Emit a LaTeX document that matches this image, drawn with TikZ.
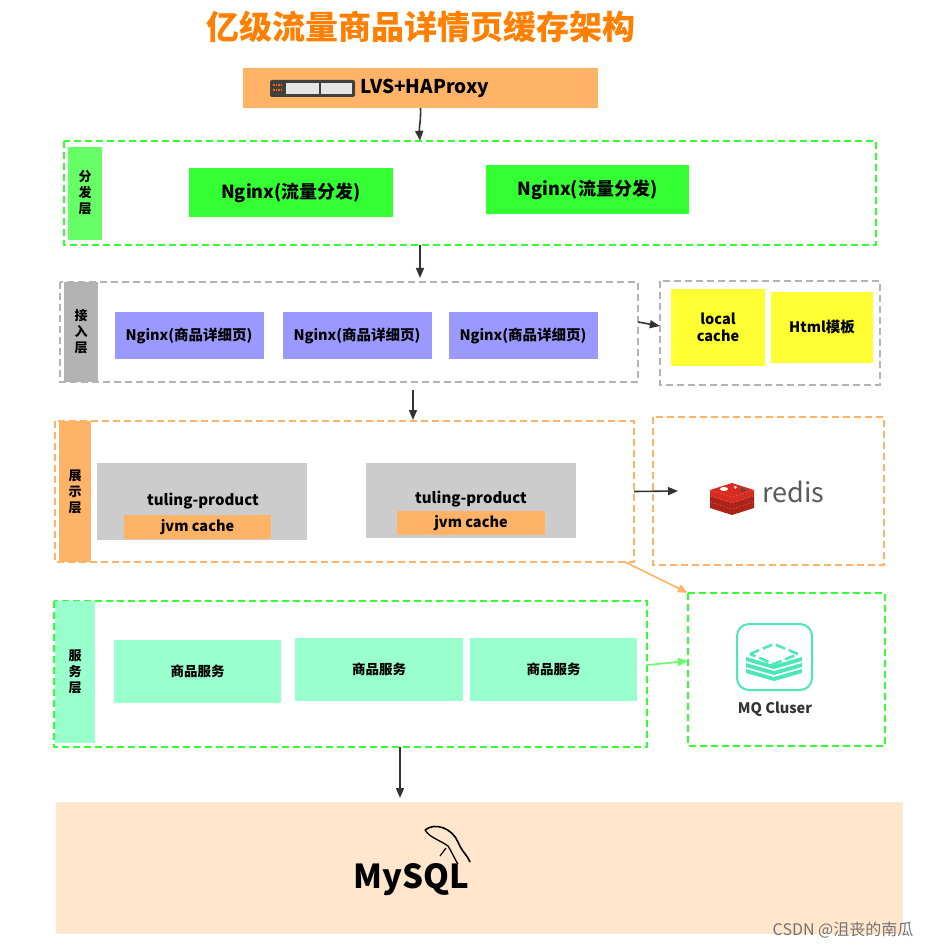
\documentclass[tikz,border=0pt]{standalone}
\usepackage{fontspec}
\setmainfont{Noto Sans CJK SC}
\usetikzlibrary{arrows.meta}
\definecolor{gr}{HTML}{33FF33}
\definecolor{lgr}{HTML}{66FF66}
\definecolor{org}{HTML}{FFB366}
\definecolor{gry}{HTML}{B3B3B3}
\definecolor{lgry}{HTML}{CCCCCC}
\definecolor{pur}{HTML}{9999FF}
\definecolor{yel}{HTML}{FFFF33}
\definecolor{mint}{HTML}{99FFCC}
\definecolor{peach}{HTML}{FFE6CC}
\definecolor{mq}{HTML}{4DE6B8}
\definecolor{rd}{HTML}{D82C20}
\definecolor{ttl}{HTML}{FF8000}
\begin{document}
\begin{tikzpicture}[x=1pt,y=-1pt,
 box/.style={draw=none,inner sep=0pt,font=\bfseries},
 cont/.style={draw,line width=2pt,dash pattern=on 7pt off 4pt},
 arr/.style={-{Triangle[length=10pt,width=8pt]},line width=1.6pt,draw=black!80},
 lbl/.style={font=\bfseries\fontsize{13}{16}\selectfont,align=center}]
\useasboundingbox (0,0) rectangle (944,949);
\node[font=\bfseries\fontsize{33}{36}\selectfont,text=ttl] (title) at (421,27) {亿级流量商品详情页缓存架构};
% LVS
\fill[org] (243,68) rectangle (598,108);
\node (lvs) at (420.5,88) [minimum width=355pt,minimum height=40pt] {};
\fill[black!75,rounded corners=2pt] (270,80) rectangle (355,97);
\foreach \i in {0,...,3}{\fill[orange!80!red] (273+\i*2.6,84) rectangle ++(1.6,1.6);\fill[orange!80!red] (273+\i*2.6,89) rectangle ++(1.6,1.6);}
\fill[white!90!black] (286,83) rectangle (319,94);
\fill[white!90!black] (321,83) rectangle (352,94);
\node[font=\bfseries\fontsize{19}{21}\selectfont,anchor=west] (lvst) at (357,88) {LVS+HAProxy};
% layer 1
\draw[cont,gr] (64,141) rectangle (876,245);
\node (l1) at (470,193) [minimum width=812pt,minimum height=104pt] {};
\fill[lgr] (68,147) rectangle (102,240);
\node[lbl] at (85,193) {分\\发\\层};
\node[box,fill=gr,minimum width=204pt,minimum height=49pt,font=\bfseries\fontsize{18}{20}\selectfont] (n1) at (291,192.5) {Nginx(流量分发)};
\node[box,fill=gr,minimum width=203pt,minimum height=49pt,font=\bfseries\fontsize{18}{20}\selectfont] (n2) at (587.5,189.5) {Nginx(流量分发)};
% layer 2
\draw[cont,gry] (60,282) rectangle (638,382);
\node (l2) at (349,332) [minimum width=578pt,minimum height=100pt] {};
\fill[gry] (64,282) rectangle (98,382);
\node[lbl] at (81,332) {接\\入\\层};
\foreach \n/\x in {p1/189,p2/357,p3/523}{
 \node[box,fill=pur,minimum width=149pt,minimum height=47pt,font=\bfseries\fontsize{14.5}{16}\selectfont] (\n) at (\x,335.5) {Nginx(商品详细页)};}
\draw[cont,gry] (660,281) rectangle (880,385);
\node (cache) at (770,333) [minimum width=220pt,minimum height=104pt] {};
\node[box,fill=yel,minimum width=94pt,minimum height=77pt,align=center,font=\bfseries\fontsize{14.5}{17}\selectfont] (lc) at (718,327.5) {local\\cache};
\node[box,fill=yel,minimum width=102pt,minimum height=71pt,font=\bfseries\fontsize{14.5}{16}\selectfont] (html) at (822,327.5) {Html模板};
% layer 3
\draw[cont,org] (55,421) rectangle (634,562);
\node (l3) at (344.5,491.5) [minimum width=579pt,minimum height=141pt] {};
\fill[org] (59,421) rectangle (91,562);
\node[lbl] at (75,491.5) {展\\示\\层};
\fill[lgry] (97,463) rectangle (307,540);
\fill[lgry] (366,463) rectangle (576,538);
\node[font=\bfseries\fontsize{15}{17}\selectfont] (t1) at (203,501) {tuling-product};
\node[font=\bfseries\fontsize{15}{17}\selectfont] (t2) at (471,499) {tuling-product};
\node[box,fill=org,minimum width=147pt,minimum height=24pt,font=\bfseries\fontsize{14.5}{16}\selectfont] (j1) at (197.5,527) {jvm cache};
\node[box,fill=org,minimum width=148pt,minimum height=24pt,font=\bfseries\fontsize{14.5}{16}\selectfont] (j2) at (471,523) {jvm cache};
% redis
\draw[cont,org] (653,417) rectangle (884,565);
\node (redis) at (768.5,491) [minimum width=231pt,minimum height=148pt] {};
\begin{scope}[shift={(732,494)}]
\foreach \dy in {8,2}{\fill[rd!80!black] (-22,\dy) -- (0,\dy+7) -- (22,\dy) -- (22,\dy+6) -- (0,\dy+13) -- (-22,\dy+6) -- cycle;}
\fill[rd] (-22,-4) -- (0,3) -- (22,-4) -- (22,2) -- (0,9) -- (-22,2) -- cycle;
\fill[rd] (-22,-4) -- (0,-11) -- (22,-4) -- (0,3) -- cycle;
\fill[white] (-8,-5) ellipse (4 and 2);
\fill[white] (2,-8) -- (5,-7) -- (3,-5) -- cycle;
\fill[black!70] (9,-6) -- (15,-4) -- (9,-2) -- cycle;
\end{scope}
\node[font=\fontsize{27}{29}\selectfont,text=black!65,anchor=west] (rt) at (759,492) {redis};
% layer 4
\draw[cont,gr] (54,601) rectangle (647,747);
\node (l4) at (350.5,674) [minimum width=593pt,minimum height=146pt] {};
\fill[mint] (55,601) rectangle (95,743);
\node[lbl] at (75,672) {服\\务\\层};
\foreach \n/\x/\y/\w in {s1/197.5/671.5/167,s2/379/669.5/168,s3/553.5/669.5/167}{
 \node[box,fill=mint,minimum width=\w pt,minimum height=63pt,font=\bfseries\fontsize{13.5}{15}\selectfont] (\n) at (\x,\y) {商品服务};}
% MQ
\draw[cont,gr] (688,593) rectangle (885,746);
\node (mq) at (786.5,669.5) [minimum width=197pt,minimum height=153pt] {};
\draw[mq,line width=2pt,rounded corners=12pt] (737,624) rectangle (812,690);
\begin{scope}[shift={(774,657)}]
\foreach \dy in {12,6}{\fill[mq] (-28,\dy) -- (0,\dy+8) -- (28,\dy) -- (28,\dy+4) -- (0,\dy+12) -- (-28,\dy+4) -- cycle;}
\fill[mq] (-28,0) -- (0,8) -- (28,0) -- (28,4) -- (0,12) -- (-28,4) -- cycle;
\draw[mq,line width=2.5pt,dash pattern=on 10pt off 4pt] (-24,-3) -- (0,-13) -- (24,-3) -- (0,7) -- cycle;
\end{scope}
\node[font=\bfseries\fontsize{14.5}{16}\selectfont,text=black!80] (mqt) at (775,709) {MQ Cluser};
% MySQL
\fill[peach] (56,802) rectangle (903,934);
\node (db) at (479.5,802) [minimum width=847pt,minimum height=0pt,inner sep=0pt] {};
\node[font=\bfseries\fontsize{33}{36}\selectfont] (my) at (411,880) {MySQL};
\draw[line width=1.6pt] (425,830) .. controls (435,822) and (452,828) .. (458,842) .. controls (462,852) and (468,856) .. (470,862);
\draw[line width=1.3pt] (425,830) .. controls (430,838) and (440,840) .. (448,846) .. controls (452,852) and (455,860) .. (458,864);
\draw[line width=1.2pt] (446,848) -- (440,856);
\node[font=\fontsize{16}{18}\selectfont,text=black!55] (wm) at (843,930) {CSDN @沮丧的南瓜};
% arrows
\draw[arr] (lvs.south) .. controls (421,120) and (419,128) .. (l1.north -| 420,0);
\draw[arr] (420,245) -- (420,278);
\draw[arr] (l2.east |- 0,322) -- (cache.west |- 0,326);
\draw[arr] (413,390) -- (413,420);
\draw[arr] (l3.east) -- (678,491);
\draw[-{Triangle[length=10pt,width=8pt]},line width=1.6pt,org] (625,562) -- (mq.north west);
\draw[-{Triangle[length=10pt,width=8pt]},line width=1.6pt,lgr] (l4.east |- 0,665) -- (mq.west |- 0,661);
\draw[arr] (l4.south -| 400,0) -- (400,798);
\end{tikzpicture}
\end{document}
